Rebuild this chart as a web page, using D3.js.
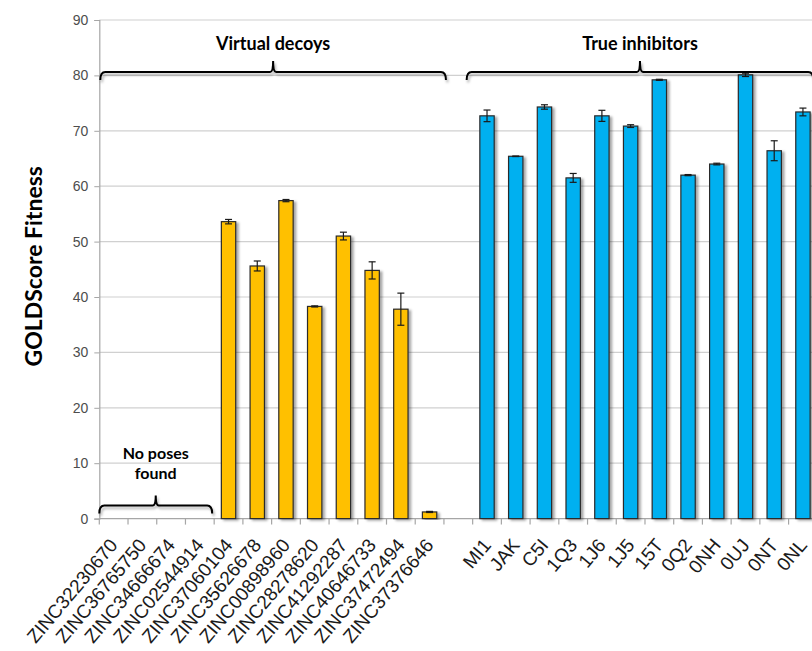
<!DOCTYPE html>
<html>
<head>
<meta charset="utf-8">
<script src="https://cdn.jsdelivr.net/npm/d3@7"></script>
<style>
  html, body { margin: 0; padding: 0; background: #fff; }
  svg { display: block; }
</style>
</head>
<body>
<svg id="chart" width="812" height="651"></svg>
<script>
// ---- data ----
const decoyNames = ["ZINC32230670","ZINC36765750","ZINC34666674","ZINC02544914","ZINC37060104","ZINC35626678","ZINC00898960","ZINC28278620","ZINC41292287","ZINC40646733","ZINC37472494","ZINC37376646"];
const decoyValues = [null, null, null, null, 53.6, 45.6, 57.4, 38.3, 51.0, 44.8, 37.8, 1.2];
const decoyErrors = [null, null, null, null, 0.4, 0.9, 0.2, 0.1, 0.7, 1.55, 2.9, 0.1];
const inhibitorNames = ["MI1","JAK","C5I","1Q3","1J6","1J5","15T","0Q2","0NH","0UJ","0NT","0NL"];
const inhibitorValues = [72.7, 65.4, 74.3, 61.5, 72.7, 70.85, 79.2, 62.0, 64.0, 80.1, 66.4, 73.4];
const inhibitorErrors = [1.05, 0.05, 0.4, 0.8, 1.0, 0.25, 0.1, 0.1, 0.15, 0.3, 1.8, 0.7];
const gapName = " ";
const yTicks = [0, 10, 20, 30, 40, 50, 60, 70, 80, 90];
const yLabel = "GOLDScore Fitness";
const groupLabels = ["Virtual decoys", "True inhibitors"];
const noPosesLabel = ["No poses", "found"];

const categories = [...decoyNames, gapName, ...inhibitorNames];
const rows = [
  ...decoyNames.map((n, i) => ({name: n, v: decoyValues[i], e: decoyErrors[i], g: "decoy"})),
  ...inhibitorNames.map((n, i) => ({name: n, v: inhibitorValues[i], e: inhibitorErrors[i], g: "inhib"}))
];

// ---- layout ----
const svg = d3.select("#chart");
const plotLeft = 99.3, plotRight = 817.3, plotTop = 20, plotBottom = 518.6;
const x = d3.scaleBand().domain(categories).range([plotLeft, plotRight]).paddingInner(0).paddingOuter(0);
const y = d3.scaleLinear().domain([0, 90]).range([plotBottom, plotTop]);
const colors = {decoy: "#FFC000", inhib: "#00B0F0"};

const defs = svg.append("defs");
const f = defs.append("filter").attr("id", "shadow").attr("x", "-30%").attr("y", "-10%").attr("width", "170%").attr("height", "130%");
f.append("feDropShadow").attr("dx", 2.5).attr("dy", 1.5).attr("stdDeviation", 1.2)
  .attr("flood-color", "#000").attr("flood-opacity", 0.35);
const f2 = defs.append("filter").attr("id", "bshadow").attr("x", "-5%").attr("y", "-50%").attr("width", "110%").attr("height", "250%");
f2.append("feDropShadow").attr("dx", 1.5).attr("dy", 2.5).attr("stdDeviation", 1.2)
  .attr("flood-color", "#000").attr("flood-opacity", 0.3);

// gridlines
svg.append("g").selectAll("line").data(yTicks.filter(t => t > 0)).join("line")
  .attr("x1", plotLeft).attr("x2", 812)
  .attr("y1", d => y(d)).attr("y2", d => y(d))
  .attr("stroke", "#d0d0d0").attr("stroke-width", 1.2);

// y axis
const yAxis = svg.append("g").attr("transform", `translate(${plotLeft},0)`)
  .call(d3.axisLeft(y).tickValues(yTicks).tickSize(5).tickPadding(6));
yAxis.select(".domain").attr("stroke", "#a6a6a6").attr("stroke-width", 1.2);
yAxis.selectAll(".tick line").attr("stroke", "#a6a6a6");
yAxis.selectAll(".tick text").attr("font-family", "Liberation Sans, Arial, sans-serif")
  .attr("font-size", 14).attr("fill", "#4d4d4d");

// x axis line and ticks at band boundaries
svg.append("line").attr("x1", plotLeft).attr("x2", 812)
  .attr("y1", plotBottom).attr("y2", plotBottom)
  .attr("stroke", "#a6a6a6").attr("stroke-width", 1.2);
const bounds = [...categories.map(c => x(c)), x(categories[categories.length - 1]) + x.bandwidth()];
svg.append("g").selectAll("line").data(bounds).join("line")
  .attr("x1", d => d).attr("x2", d => d)
  .attr("y1", plotBottom).attr("y2", plotBottom + 6)
  .attr("stroke", "#a6a6a6").attr("stroke-width", 1.2);

// x labels
svg.append("g").selectAll("text").data(categories.filter(c => c !== gapName)).join("text")
  .attr("transform", d => `translate(${x(d) + x.bandwidth() / 2 + 5},${plotBottom + 27}) rotate(-50)`)
  .attr("text-anchor", "end")
  .attr("font-family", "Liberation Sans, Arial, sans-serif")
  .attr("font-size", 19).attr("fill", "#1a1a1a")
  .text(d => d);

// bars
const bw = x.bandwidth() * 0.5;
const barRows = rows.filter(r => r.v != null);
svg.append("g").selectAll("rect").data(barRows).join("rect")
  .attr("x", d => x(d.name) + (x.bandwidth() - bw) / 2)
  .attr("y", d => y(d.v))
  .attr("width", bw)
  .attr("height", d => y(0) - y(d.v))
  .attr("fill", d => colors[d.g])
  .attr("stroke", "#2a2a2a").attr("stroke-width", 1.2)
  .attr("filter", "url(#shadow)");

// error bars
const eg = svg.append("g").attr("stroke", "#1a1a1a").attr("stroke-width", 1.2);
barRows.forEach(d => {
  const cx = x(d.name) + x.bandwidth() / 2;
  eg.append("line").attr("x1", cx).attr("x2", cx).attr("y1", y(d.v - d.e)).attr("y2", y(d.v + d.e));
  eg.append("line").attr("x1", cx - 3.5).attr("x2", cx + 3.5).attr("y1", y(d.v + d.e)).attr("y2", y(d.v + d.e));
  eg.append("line").attr("x1", cx - 3.5).attr("x2", cx + 3.5).attr("y1", y(d.v - d.e)).attr("y2", y(d.v - d.e));
});

// braces
function bracePath(x1, x2, xm, yy, drop, tip) {
  return `M${x1},${yy + drop} Q${x1},${yy} ${x1 + 5},${yy} L${xm - 3},${yy} Q${xm},${yy} ${xm},${yy - tip}` +
         ` Q${xm},${yy} ${xm + 3},${yy} L${x2 - 5},${yy} Q${x2},${yy} ${x2},${yy + drop}`;
}
function brace(x1, x2, yy, drop, tip) {
  const xm = (x1 + x2) / 2;
  svg.append("path").attr("d", bracePath(x1, x2, xm, yy, drop, tip))
    .attr("fill", "none").attr("stroke", "#000").attr("stroke-width", 2)
    .attr("filter", "url(#bshadow)");
  return xm;
}
const firstDecoy = x(decoyNames[0]);
const lastDecoyEnd = x(decoyNames[decoyNames.length - 1]) + x.bandwidth();
const m1 = brace(firstDecoy + 1, lastDecoyEnd + 2, 72, 8, 11);
const m2 = brace(x(inhibitorNames[0]) - 6, plotRight - 4, 72, 8, 11);
const m3 = brace(firstDecoy, x(decoyNames[3]) + x.bandwidth() - 2, 505.5, 8, 10);

const titleFont = "Lato, 'Open Sans', sans-serif";
svg.append("text").attr("x", m1).attr("y", 50).attr("text-anchor", "middle")
  .attr("font-family", titleFont).attr("font-weight", "bold").attr("font-size", 18).attr("fill", "#000")
  .text(groupLabels[0]);
svg.append("text").attr("x", m2).attr("y", 50).attr("text-anchor", "middle")
  .attr("font-family", titleFont).attr("font-weight", "bold").attr("font-size", 18).attr("fill", "#000")
  .text(groupLabels[1]);
noPosesLabel.forEach((t, i) => {
  svg.append("text").attr("x", m3).attr("y", 459 + i * 20).attr("text-anchor", "middle")
    .attr("font-family", titleFont).attr("font-weight", "bold").attr("font-size", 16).attr("fill", "#000")
    .text(t);
});

// y label
svg.append("text")
  .attr("transform", `translate(42,${(plotTop + plotBottom) / 2 - 3}) rotate(-90)`)
  .attr("text-anchor", "middle")
  .attr("font-family", titleFont).attr("font-weight", "bold").attr("font-size", 23).attr("fill", "#000")
  .text(yLabel);
</script>
</body>
</html>
